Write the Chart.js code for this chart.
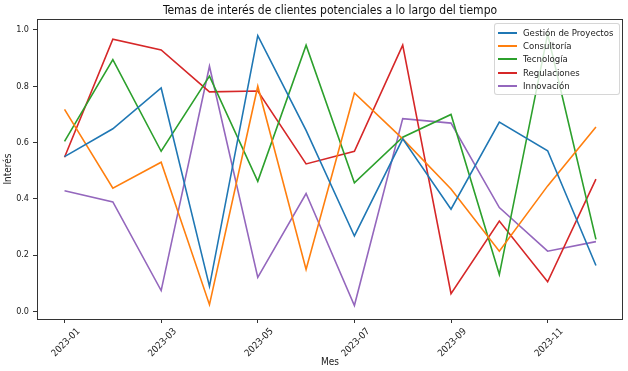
<!DOCTYPE html>
<html>
<head>
<meta charset="utf-8">
<script src="https://cdn.jsdelivr.net/npm/chart.js@4/dist/chart.umd.min.js"></script>
<style>
  html, body { margin: 0; padding: 0; background: #fff; }
  #wrap { position: relative; width: 628px; height: 371px; }
  #legend {
    position: absolute; left: 494px; top: 23px; width: 124px; height: 70px;
    background: rgba(255,255,255,0.8); border: 1px solid rgba(204,204,204,0.8);
    border-radius: 3px; font-family: "DejaVu Sans Condensed", "DejaVu Sans", sans-serif;
    font-size: 9.5px; color: #222;
  }
  .row { position: absolute; left: 0; height: 12px; width: 100%; }
  .sw { position: absolute; left: 3px; top: 5px; width: 19px; height: 2px; }
  .lb { position: absolute; left: 28px; top: 0; line-height: 12px; white-space: nowrap; }
</style>
</head>
<body>
<div id="wrap">
  <canvas id="c" width="628" height="371"></canvas>
  <div id="legend"></div>
</div>
<script>
const months = ["2023-01","2023-02","2023-03","2023-04","2023-05","2023-06","2023-07","2023-08","2023-09","2023-10","2023-11","2023-12"];
const xTickIdx = [0, 2, 4, 6, 8, 10];
const yTicks = [0.0, 0.2, 0.4, 0.6, 0.8, 1.0];

const seriesNames = ["Gestión de Proyectos", "Consultoría", "Tecnología", "Regulaciones", "Innovación"];
const gestion      = [0.550, 0.649, 0.794, 0.089, 0.980, 0.643, 0.268, 0.613, 0.363, 0.673, 0.571, 0.163];
const consultoria  = [0.718, 0.438, 0.530, 0.024, 0.800, 0.149, 0.776, 0.613, 0.435, 0.214, 0.446, 0.655];
const tecnologia   = [0.604, 0.895, 0.569, 0.836, 0.462, 0.946, 0.457, 0.619, 0.700, 0.131, 0.985, 0.256];
const regulaciones = [0.548, 0.967, 0.929, 0.780, 0.783, 0.524, 0.569, 0.946, 0.063, 0.321, 0.105, 0.470];
const innovacion   = [0.429, 0.389, 0.074, 0.871, 0.121, 0.419, 0.021, 0.685, 0.669, 0.369, 0.214, 0.248];
const colors = ["#1f77b4", "#ff7f0e", "#2ca02c", "#d62728", "#9467bd"];

const allSeries = [gestion, consultoria, tecnologia, regulaciones, innovacion];
const FONT = '"DejaVu Sans Condensed", "DejaVu Sans", sans-serif';

const datasets = allSeries.map((vals, i) => ({
  label: seriesNames[i],
  data: vals.map((v, j) => ({ x: j, y: v })),
  borderColor: colors[i],
  backgroundColor: colors[i],
  borderWidth: 1.6,
  pointRadius: 0,
  tension: 0,
  fill: false
}));

const framePlugin = {
  id: 'frame',
  afterDatasetsDraw(chart) {
    const { ctx, chartArea: a } = chart;
    ctx.save();
    ctx.strokeStyle = '#333';
    ctx.lineWidth = 1;
    ctx.strokeRect(Math.round(a.left) + 0.5, Math.round(a.top) + 0.5, Math.round(a.right - a.left) - 1, Math.round(a.bottom - a.top));
    ctx.restore();
  }
};

new Chart(document.getElementById('c'), {
  type: 'line',
  data: { datasets },
  plugins: [framePlugin],
  options: {
    responsive: false,
    animation: false,
    devicePixelRatio: 1,
    layout: { padding: { left: 0, right: 5, top: 0, bottom: 0 } },
    plugins: {
      legend: { display: false },
      tooltip: { enabled: false },
      title: {
        display: true,
        fullSize: false,
        text: 'Temas de interés de clientes potenciales a lo largo del tiempo',
        color: '#111',
        font: { family: FONT, size: 12, weight: 'normal', lineHeight: 1.0 },
        padding: { top: 5, bottom: 2 }
      }
    },
    scales: {
      x: {
        type: 'linear',
        min: -0.57,
        max: 11.56,
        afterBuildTicks(scale) { scale.ticks = xTickIdx.map(v => ({ value: v })); },
        afterFit(scale) { scale.height = 52; },
        grid: { drawOnChartArea: false, drawTicks: true, tickLength: 4, color: '#333' },
        border: { display: false },
        ticks: {
          color: '#222',
          font: { family: FONT, size: 9.5 },
          minRotation: 45,
          maxRotation: 45,
          labelOffset: 14,
          padding: 3,
          callback: (v) => months[v]
        },
        title: {
          display: true, text: 'Mes', color: '#222',
          font: { family: FONT, size: 10 },
          padding: { top: 0, bottom: 3 }
        }
      },
      y: {
        min: -0.027,
        max: 1.039,
        afterBuildTicks(scale) { scale.ticks = yTicks.map(v => ({ value: v })); },
        afterFit(scale) { scale.width = 37; },
        grid: { drawOnChartArea: false, drawTicks: true, tickLength: 4, color: '#333' },
        border: { display: false },
        ticks: {
          color: '#222',
          font: { family: FONT, size: 9 },
          padding: 4,
          callback: (v) => Number(v).toFixed(1)
        },
        title: {
          display: true, text: 'Interés', color: '#222',
          font: { family: FONT, size: 10 },
          padding: { top: 2, bottom: 0 }
        }
      }
    }
  }
});

// legend overlay built from the dataset names and colours
const leg = document.getElementById('legend');
seriesNames.forEach((name, i) => {
  const row = document.createElement('div');
  row.className = 'row';
  row.style.top = (2.5 + i * 13.4) + 'px';
  const sw = document.createElement('div');
  sw.className = 'sw';
  sw.style.background = colors[i];
  const lb = document.createElement('div');
  lb.className = 'lb';
  lb.textContent = name;
  row.appendChild(sw);
  row.appendChild(lb);
  leg.appendChild(row);
});
</script>
</body>
</html>
